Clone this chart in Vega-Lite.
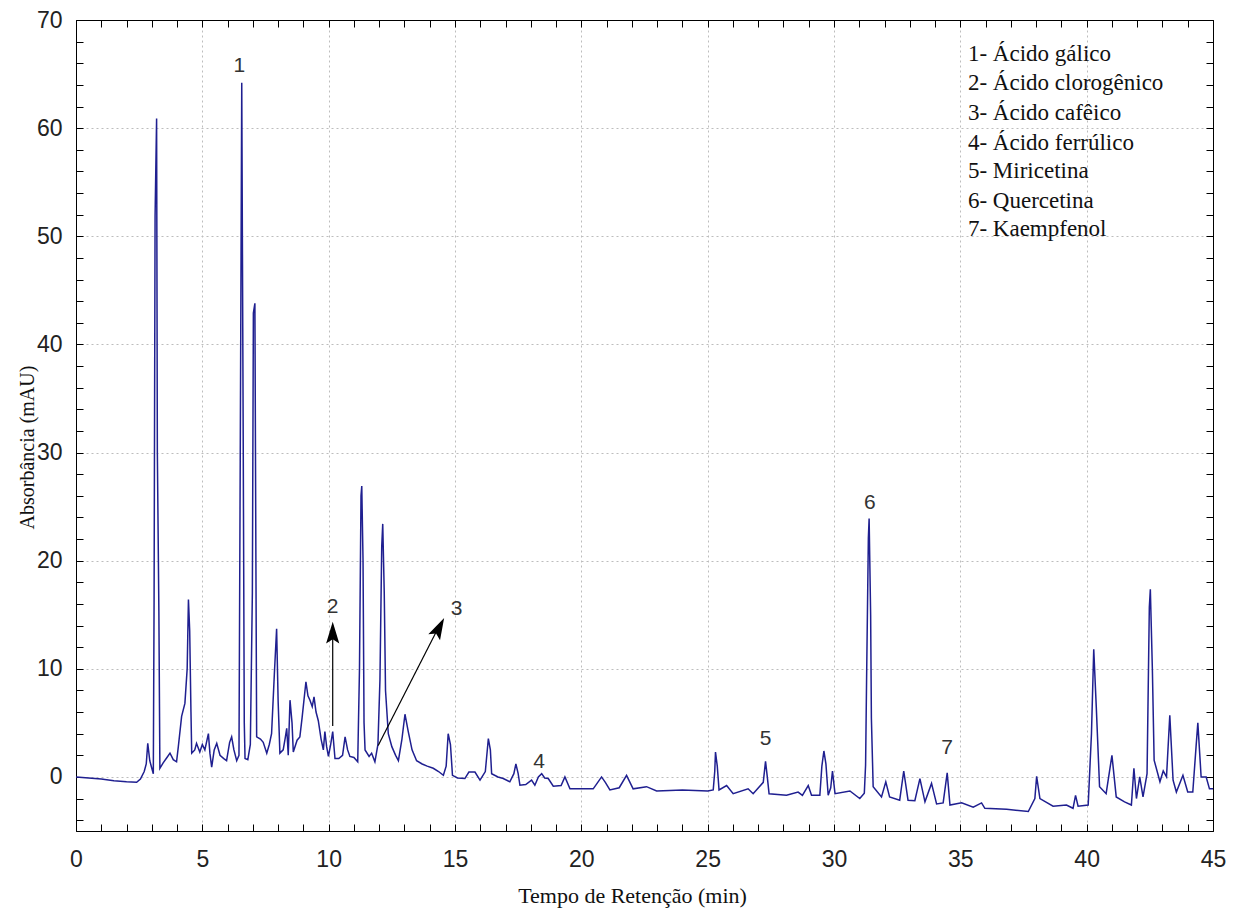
{
  "$schema": "https://vega.github.io/schema/vega-lite/v6.json",
  "width": 1137,
  "height": 811,
  "autosize": {"type": "none"},
  "padding": {"left": 76, "top": 20, "right": 27, "bottom": 78},
  "background": "white",
  "config": {
    "view": {"stroke": "black", "strokeWidth": 1},
    "axis": {
      "domainColor": "black",
      "labelFont": "Liberation Sans",
      "labelFontSize": 23,
      "labelColor": "#222",
      "titleFont": "Liberation Serif",
      "titleFontWeight": "normal",
      "titleColor": "#111",
      "gridColor": "#bdbdbd",
      "gridDash": [2, 3],
      "gridWidth": 1
    }
  },
  "resolve": {"axis": {"x": "independent", "y": "independent"}},
  "layer": [
    {
      "encoding": {
        "x": {
          "field": "t", "type": "quantitative",
          "scale": {"domain": [0, 45], "nice": false, "zero": false},
          "axis": {
            "orient": "bottom",
            "title": "Tempo de Retenção (min)",
            "titleFontSize": 22,
            "titleBaseline": "middle",
            "titleX": 556,
            "titleY": 64,
            "values": [0,1,2,3,4,5,6,7,8,9,10,11,12,13,14,15,16,17,18,19,20,21,22,23,24,25,26,27,28,29,30,31,32,33,34,35,36,37,38,39,40,41,42,43,44,45],
            "labelExpr": "datum.value % 5 === 0 ? datum.label : ''",
            "labelOverlap": false,
            "labelFlush": false,
            "labelPadding": 24,
            "ticks": true,
            "tickSize": -7,
            "tickColor": "black",
            "tickWidth": 1,
            "grid": true,
            "gridOpacity": {"condition": {"test": "datum.value % 5 === 0", "value": 1}, "value": 0}
          }
        },
        "y": {
          "field": "mAU", "type": "quantitative",
          "scale": {"domain": [-5, 70], "nice": false, "zero": false},
          "axis": {
            "orient": "left",
            "title": "Absorbância (mAU)",
            "titleFontSize": 20,
            "titleAngle": -90,
            "titleBaseline": "middle",
            "titleAlign": "center",
            "titleX": -49,
            "titleY": 427,
            "values": [-4,-2,0,2,4,6,8,10,12,14,16,18,20,22,24,26,28,30,32,34,36,38,40,42,44,46,48,50,52,54,56,58,60,62,64,66,68,70],
            "labelExpr": "datum.value % 10 === 0 ? datum.label : ''",
            "labelOverlap": false,
            "labelFlush": false,
            "labelPadding": 21,
            "ticks": true,
            "tickSize": -7,
            "tickColor": "black",
            "tickWidth": 1,
            "grid": true,
            "gridOpacity": {"condition": {"test": "datum.value % 10 === 0", "value": 1}, "value": 0}
          }
        }
      },
      "layer": [
        {
          "data": {"values": [
            {"t":0,"mAU":0},{"t":0.5,"mAU":-0.1},{"t":1.0,"mAU":-0.2},{"t":1.5,"mAU":-0.35},{"t":2.0,"mAU":-0.45},{"t":2.4,"mAU":-0.5},
            {"t":2.55,"mAU":-0.2},{"t":2.7,"mAU":0.5},{"t":2.78,"mAU":1.2},{"t":2.84,"mAU":3.1},{"t":2.92,"mAU":1.5},{"t":3.0,"mAU":0.8},
            {"t":3.06,"mAU":0.3},{"t":3.09,"mAU":16.1},{"t":3.13,"mAU":51.9},{"t":3.19,"mAU":60.9},{"t":3.22,"mAU":30},{"t":3.28,"mAU":15.3},
            {"t":3.32,"mAU":0.8},{"t":3.45,"mAU":1.3},{"t":3.6,"mAU":1.8},{"t":3.72,"mAU":2.2},{"t":3.85,"mAU":1.6},{"t":3.98,"mAU":1.4},
            {"t":4.05,"mAU":2.8},{"t":4.18,"mAU":5.6},{"t":4.31,"mAU":6.8},{"t":4.4,"mAU":10},{"t":4.45,"mAU":16.4},{"t":4.5,"mAU":13.5},
            {"t":4.55,"mAU":6},{"t":4.58,"mAU":2.2},{"t":4.7,"mAU":2.5},{"t":4.77,"mAU":3.1},{"t":4.9,"mAU":2.3},{"t":5.0,"mAU":3.0},
            {"t":5.1,"mAU":2.5},{"t":5.24,"mAU":4.0},{"t":5.3,"mAU":2.2},{"t":5.37,"mAU":0.9},{"t":5.47,"mAU":2.5},{"t":5.57,"mAU":3.1},
            {"t":5.7,"mAU":2.0},{"t":5.85,"mAU":1.7},{"t":5.96,"mAU":1.5},{"t":6.08,"mAU":3.2},{"t":6.16,"mAU":3.7},{"t":6.25,"mAU":2.5},
            {"t":6.36,"mAU":1.5},{"t":6.45,"mAU":2.0},{"t":6.5,"mAU":29.2},{"t":6.56,"mAU":64.2},{"t":6.62,"mAU":30},{"t":6.66,"mAU":5},
            {"t":6.69,"mAU":1.7},{"t":6.8,"mAU":1.6},{"t":6.9,"mAU":3},{"t":6.98,"mAU":17},{"t":7.02,"mAU":42.9},{"t":7.08,"mAU":43.8},
            {"t":7.12,"mAU":20},{"t":7.15,"mAU":3.7},{"t":7.3,"mAU":3.5},{"t":7.41,"mAU":3.2},{"t":7.55,"mAU":2.2},{"t":7.65,"mAU":3},
            {"t":7.74,"mAU":4.0},{"t":7.85,"mAU":9.5},{"t":7.94,"mAU":13.7},{"t":8.0,"mAU":7},{"t":8.07,"mAU":2.2},{"t":8.2,"mAU":2.5},
            {"t":8.28,"mAU":3.6},{"t":8.34,"mAU":4.5},{"t":8.4,"mAU":2.0},{"t":8.47,"mAU":7.1},{"t":8.55,"mAU":5},{"t":8.6,"mAU":2.3},
            {"t":8.75,"mAU":3.4},{"t":8.86,"mAU":3.7},{"t":8.95,"mAU":5.5},{"t":9.1,"mAU":8.8},{"t":9.18,"mAU":7.5},{"t":9.26,"mAU":7.1},
            {"t":9.35,"mAU":6.5},{"t":9.42,"mAU":7.4},{"t":9.5,"mAU":6},{"t":9.59,"mAU":5.2},{"t":9.7,"mAU":3.5},{"t":9.79,"mAU":2.5},
            {"t":9.85,"mAU":4.2},{"t":9.92,"mAU":2.8},{"t":9.99,"mAU":1.9},{"t":10.08,"mAU":3.0},{"t":10.16,"mAU":4.2},{"t":10.25,"mAU":1.7},
            {"t":10.4,"mAU":1.7},{"t":10.55,"mAU":2.0},{"t":10.65,"mAU":3.7},{"t":10.75,"mAU":2.5},{"t":10.84,"mAU":1.9},{"t":11.0,"mAU":1.8},
            {"t":11.15,"mAU":1.4},{"t":11.22,"mAU":10},{"t":11.28,"mAU":26},{"t":11.31,"mAU":26.9},{"t":11.36,"mAU":20},{"t":11.4,"mAU":5},
            {"t":11.44,"mAU":2.5},{"t":11.6,"mAU":1.9},{"t":11.7,"mAU":2.2},{"t":11.83,"mAU":1.4},{"t":11.95,"mAU":3.0},{"t":12.03,"mAU":9},
            {"t":12.1,"mAU":21.3},{"t":12.14,"mAU":23.4},{"t":12.2,"mAU":17},{"t":12.25,"mAU":8},{"t":12.36,"mAU":4.0},{"t":12.5,"mAU":2.8},
            {"t":12.65,"mAU":2.0},{"t":12.76,"mAU":1.5},{"t":12.9,"mAU":3.5},{"t":13.02,"mAU":5.8},{"t":13.15,"mAU":4.2},{"t":13.3,"mAU":2.5},
            {"t":13.48,"mAU":1.5},{"t":13.7,"mAU":1.2},{"t":13.9,"mAU":1.0},{"t":14.14,"mAU":0.8},{"t":14.35,"mAU":0.5},{"t":14.54,"mAU":0.15},
            {"t":14.65,"mAU":1.0},{"t":14.73,"mAU":4.0},{"t":14.82,"mAU":3.0},{"t":14.9,"mAU":0.15},{"t":15.1,"mAU":-0.1},{"t":15.39,"mAU":-0.15},
            {"t":15.55,"mAU":0.45},{"t":15.79,"mAU":0.45},{"t":15.99,"mAU":-0.3},{"t":16.2,"mAU":0.5},{"t":16.32,"mAU":3.55},{"t":16.4,"mAU":2.5},
            {"t":16.45,"mAU":0.3},{"t":16.7,"mAU":0},{"t":16.91,"mAU":-0.15},{"t":17.17,"mAU":-0.45},{"t":17.33,"mAU":0.3},{"t":17.41,"mAU":1.2},
            {"t":17.5,"mAU":0.3},{"t":17.57,"mAU":-0.77},{"t":17.8,"mAU":-0.7},{"t":18.03,"mAU":-0.3},{"t":18.16,"mAU":-0.77},{"t":18.3,"mAU":0},
            {"t":18.43,"mAU":0.3},{"t":18.55,"mAU":-0.1},{"t":18.69,"mAU":-0.15},{"t":18.89,"mAU":-0.85},{"t":19.2,"mAU":-0.8},{"t":19.35,"mAU":0},
            {"t":19.55,"mAU":-1.1},{"t":20.47,"mAU":-1.1},{"t":20.65,"mAU":-0.5},{"t":20.8,"mAU":0},{"t":20.95,"mAU":-0.5},{"t":21.13,"mAU":-1.2},
            {"t":21.5,"mAU":-1.0},{"t":21.79,"mAU":0.15},{"t":22.05,"mAU":-1.1},{"t":22.58,"mAU":-0.9},{"t":22.98,"mAU":-1.3},{"t":23.5,"mAU":-1.25},
            {"t":24.0,"mAU":-1.2},{"t":24.5,"mAU":-1.25},{"t":25.0,"mAU":-1.3},{"t":25.22,"mAU":-1.2},{"t":25.28,"mAU":0.5},{"t":25.31,"mAU":2.3},
            {"t":25.38,"mAU":1.0},{"t":25.45,"mAU":-1.2},{"t":25.75,"mAU":-0.8},{"t":26.01,"mAU":-1.55},{"t":26.6,"mAU":-1.1},{"t":26.8,"mAU":-1.55},
            {"t":27.2,"mAU":-0.5},{"t":27.29,"mAU":1.45},{"t":27.36,"mAU":0},{"t":27.43,"mAU":-1.55},{"t":28.12,"mAU":-1.7},{"t":28.58,"mAU":-1.4},
            {"t":28.75,"mAU":-1.7},{"t":28.98,"mAU":-0.8},{"t":29.11,"mAU":-1.7},{"t":29.44,"mAU":-1.7},{"t":29.52,"mAU":1.0},{"t":29.6,"mAU":2.4},
            {"t":29.68,"mAU":1.2},{"t":29.77,"mAU":-1.7},{"t":29.87,"mAU":-1.0},{"t":29.94,"mAU":0.55},{"t":30.04,"mAU":-1.55},{"t":30.63,"mAU":-1.3},
            {"t":31.02,"mAU":-2.0},{"t":31.2,"mAU":-1.5},{"t":31.25,"mAU":1.1},{"t":31.29,"mAU":9.1},{"t":31.36,"mAU":22.1},{"t":31.39,"mAU":23.9},
            {"t":31.45,"mAU":15},{"t":31.48,"mAU":5.4},{"t":31.55,"mAU":-0.9},{"t":31.88,"mAU":-1.85},{"t":32.05,"mAU":-0.45},{"t":32.2,"mAU":-1.85},
            {"t":32.6,"mAU":-2.15},{"t":32.76,"mAU":0.55},{"t":32.93,"mAU":-2.15},{"t":33.2,"mAU":-2.2},{"t":33.4,"mAU":-0.15},{"t":33.6,"mAU":-2.3},
            {"t":33.86,"mAU":-0.6},{"t":34.06,"mAU":-2.5},{"t":34.32,"mAU":-2.4},{"t":34.48,"mAU":0.37},{"t":34.59,"mAU":-2.6},{"t":35.05,"mAU":-2.4},
            {"t":35.51,"mAU":-2.8},{"t":35.84,"mAU":-2.4},{"t":35.97,"mAU":-2.9},{"t":36.83,"mAU":-3.0},{"t":37.69,"mAU":-3.2},{"t":37.95,"mAU":-2.0},
            {"t":38.02,"mAU":0.05},{"t":38.15,"mAU":-2.0},{"t":38.67,"mAU":-2.7},{"t":39.2,"mAU":-2.6},{"t":39.46,"mAU":-2.9},{"t":39.56,"mAU":-1.7},
            {"t":39.66,"mAU":-2.7},{"t":40.06,"mAU":-2.6},{"t":40.19,"mAU":4.0},{"t":40.28,"mAU":11.8},{"t":40.38,"mAU":6.5},{"t":40.51,"mAU":-0.9},
            {"t":40.77,"mAU":-1.55},{"t":41.0,"mAU":2.0},{"t":41.17,"mAU":-1.85},{"t":41.5,"mAU":-2.3},{"t":41.77,"mAU":-2.6},{"t":41.87,"mAU":0.8},
            {"t":41.97,"mAU":-2.0},{"t":42.1,"mAU":0},{"t":42.23,"mAU":-1.85},{"t":42.39,"mAU":0.3},{"t":42.48,"mAU":15.7},{"t":42.52,"mAU":17.35},
            {"t":42.6,"mAU":10},{"t":42.67,"mAU":1.55},{"t":42.9,"mAU":-0.45},{"t":43.03,"mAU":0.55},{"t":43.16,"mAU":0},{"t":43.29,"mAU":5.7},
            {"t":43.42,"mAU":-0.3},{"t":43.55,"mAU":-1.4},{"t":43.81,"mAU":0.15},{"t":44.0,"mAU":-1.4},{"t":44.2,"mAU":-1.4},{"t":44.33,"mAU":2.8},
            {"t":44.4,"mAU":5.0},{"t":44.53,"mAU":0},{"t":44.73,"mAU":0},{"t":44.86,"mAU":-1.1},{"t":45.0,"mAU":-1.1}
          ]},
          "mark": {"type": "line", "color": "#1f1f90", "strokeWidth": 1.5, "clip": true}
        },
        {
          "data": {"values": [{"t": 10.16, "mAU": 14.35}]},
          "mark": {"type": "point", "shape": "M0,0L-0.32,1.05L0,0.85L0.32,1.05Z", "size": 1700, "filled": true, "color": "black", "opacity": 1, "angle": 0}
        },
        {
          "data": {"values": [{"t": 14.57, "mAU": 14.7}]},
          "mark": {"type": "point", "shape": "M0,0L-0.32,1.05L0,0.85L0.32,1.05Z", "size": 1700, "filled": true, "color": "black", "opacity": 1, "angle": 27.4}
        },
        {
          "data": {"values": [
            {"label": "1", "t": 6.46, "mAU": 65.7},
            {"label": "2", "t": 10.16, "mAU": 15.74},
            {"label": "3", "t": 15.06, "mAU": 15.5},
            {"label": "4", "t": 18.33, "mAU": 1.39},
            {"label": "5", "t": 27.29, "mAU": 3.55},
            {"label": "6", "t": 31.42, "mAU": 25.3},
            {"label": "7", "t": 34.48, "mAU": 2.72}
          ]},
          "mark": {"type": "text", "font": "Liberation Sans", "fontSize": 21, "color": "#333", "align": "center", "baseline": "middle"},
          "encoding": {"text": {"field": "label"}}
        },
        {
          "data": {"values": [
            {"label": "1- Ácido gálico", "t": 35.3, "mAU": 66.82},
            {"label": "2- Ácido clorogênico", "t": 35.3, "mAU": 64.2},
            {"label": "3- Ácido cafêico", "t": 35.3, "mAU": 61.43},
            {"label": "4- Ácido ferrúlico", "t": 35.3, "mAU": 58.65},
            {"label": "5- Miricetina", "t": 35.3, "mAU": 56.03},
            {"label": "6- Quercetina", "t": 35.3, "mAU": 53.25},
            {"label": "7- Kaempfenol", "t": 35.3, "mAU": 50.63}
          ]},
          "mark": {"type": "text", "font": "Liberation Serif", "fontSize": 23, "color": "#111", "align": "left", "baseline": "middle"},
          "encoding": {"text": {"field": "label"}}
        }
      ]
    },
    {
      "data": {"values": [
        {"t": 10.16, "mAU": 4.7, "t2": 10.16, "mAU2": 14.0},
        {"t": 11.96, "mAU": 2.9, "t2": 14.45, "mAU2": 14.3}
      ]},
      "mark": {"type": "rule", "color": "black", "strokeWidth": 1.2},
      "encoding": {
        "x": {
          "field": "t", "type": "quantitative",
          "scale": {"domain": [0, 45], "nice": false, "zero": false},
          "axis": {
            "orient": "top", "labels": false, "grid": false, "title": null,
            "ticks": true, "tickSize": -7, "tickColor": "black", "tickWidth": 1,
            "values": [0,1,2,3,4,5,6,7,8,9,10,11,12,13,14,15,16,17,18,19,20,21,22,23,24,25,26,27,28,29,30,31,32,33,34,35,36,37,38,39,40,41,42,43,44,45]
          }
        },
        "y": {
          "field": "mAU", "type": "quantitative",
          "scale": {"domain": [-5, 70], "nice": false, "zero": false},
          "axis": {
            "orient": "right", "labels": false, "grid": false, "title": null,
            "ticks": true, "tickSize": -7, "tickColor": "black", "tickWidth": 1,
            "values": [-4,-2,0,2,4,6,8,10,12,14,16,18,20,22,24,26,28,30,32,34,36,38,40,42,44,46,48,50,52,54,56,58,60,62,64,66,68,70]
          }
        },
        "x2": {"field": "t2"},
        "y2": {"field": "mAU2"}
      }
    }
  ]
}
